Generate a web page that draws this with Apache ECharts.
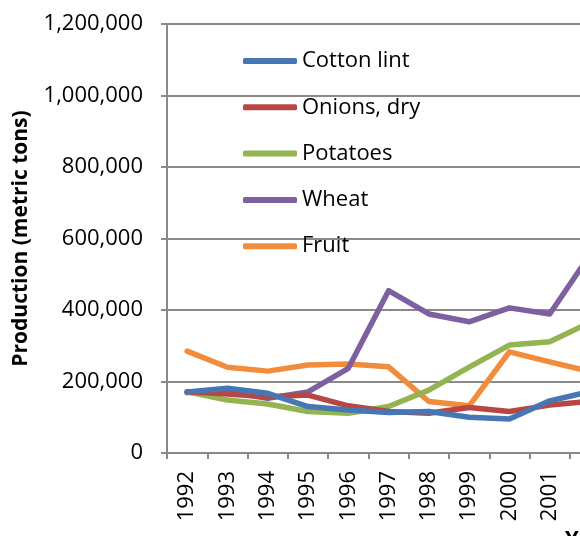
<!DOCTYPE html>
<html>
<head>
<meta charset="utf-8">
<script src="https://cdn.jsdelivr.net/npm/echarts@6/dist/echarts.min.js"></script>
<style>
  html, body { margin: 0; padding: 0; background: #fff; }
  #main { width: 580px; height: 536px; }
</style>
</head>
<body>
<div id="main"></div>
<script>
// years on the axis (the chart runs past the right edge of the picture)
var years = ['1992','1993','1994','1995','1996','1997','1998','1999','2000','2001','2002',
             '2003','2004','2005','2006','2007','2008','2009','2010','2011','2012'];

// metric tons (later years are outside the visible area)
var cottonLint = [171000, 181000, 167000, 130000, 120000, 113000, 116000, 100000, 95000, 146000, 172000];
var onionsDry  = [171000, 165000, 157000, 162000, 132000, 116000, 111000, 127000, 116000, 134000, 145000];
var potatoes   = [171000, 148000, 137000, 116000, 111000, 130000, 176000, 240000, 302000, 311000, 365000];
var wheat      = [169000, 171000, 153000, 171000, 237000, 454000, 389000, 367000, 406000, 389000, 555000];
var fruit      = [285000, 240000, 229000, 246000, 249000, 241000, 144000, 132000, 283000, 255000, 228000];

var yTicks = [0, 200000, 400000, 600000, 800000, 1000000, 1200000];

var font = 'Open Sans';
var gridGray = '#8a8a8a';

function mk(name, data, color, z) {
    return {
        name: name,
        type: 'line',
        data: data,
        z: z,
        showSymbol: false,
        symbol: 'none',
        lineStyle: { width: 5.5, color: color, cap: 'round', join: 'round' },
        itemStyle: { color: color }
    };
}

var chart = echarts.init(document.getElementById('main'));

var option = {
    backgroundColor: '#fff',
    animation: false,
    textStyle: { fontFamily: font },
    grid: {
        left: 167,
        top: 24,
        width: 846,
        height: 429,
        outerBoundsMode: 'none',
        containLabel: false
    },
    legend: {
        orient: 'vertical',
        left: 243,
        top: 48,
        padding: 0,
        icon: 'roundRect',
        itemWidth: 54,
        itemHeight: 6,
        itemGap: 20.3,
        data: ['Cotton lint', 'Onions, dry', 'Potatoes', 'Wheat', 'Fruit'],
        textStyle: { fontFamily: font, fontSize: 22, color: '#000', lineHeight: 26 }
    },
    xAxis: {
        type: 'category',
        data: years,
        boundaryGap: true,
        name: 'Year',
        nameLocation: 'middle',
        nameGap: 72,
        nameTextStyle: { fontFamily: font, fontSize: 22, fontWeight: 'bold', color: '#000' },
        axisLine: { lineStyle: { color: gridGray, width: 2 } },
        axisTick: { show: true, length: 6, interval: 0, lineStyle: { color: gridGray, width: 2 } },
        axisLabel: {
            interval: 0,
            rotate: 90,
            margin: 18,
            fontFamily: font,
            fontSize: 22,
            color: '#000'
        }
    },
    yAxis: {
        type: 'value',
        min: yTicks[0],
        max: yTicks[yTicks.length - 1],
        interval: 200000,
        name: 'Production (metric tons)',
        nameLocation: 'middle',
        nameRotate: 90,
        nameGap: 135,
        nameTextStyle: { fontFamily: font, fontSize: 21, fontWeight: 'bold', color: '#000' },
        axisLine: { show: true, lineStyle: { color: gridGray, width: 2 } },
        axisTick: { show: true, length: 6, lineStyle: { color: gridGray, width: 2 } },
        splitLine: { show: true, lineStyle: { color: gridGray, width: 2 } },
        axisLabel: {
            margin: 24,
            fontFamily: font,
            fontSize: 22,
            color: '#000',
            formatter: function (v) { return v.toLocaleString('en-US'); }
        }
    },
    // cotton lint drawn on top, as in the picture
    series: [
        mk('Fruit', fruit, '#f08c3c', 2),
        mk('Wheat', wheat, '#7d60a0', 3),
        mk('Potatoes', potatoes, '#93b450', 4),
        mk('Onions, dry', onionsDry, '#b84744', 5),
        mk('Cotton lint', cottonLint, '#4677b4', 6)
    ]
};

chart.setOption(option);
</script>
</body>
</html>
